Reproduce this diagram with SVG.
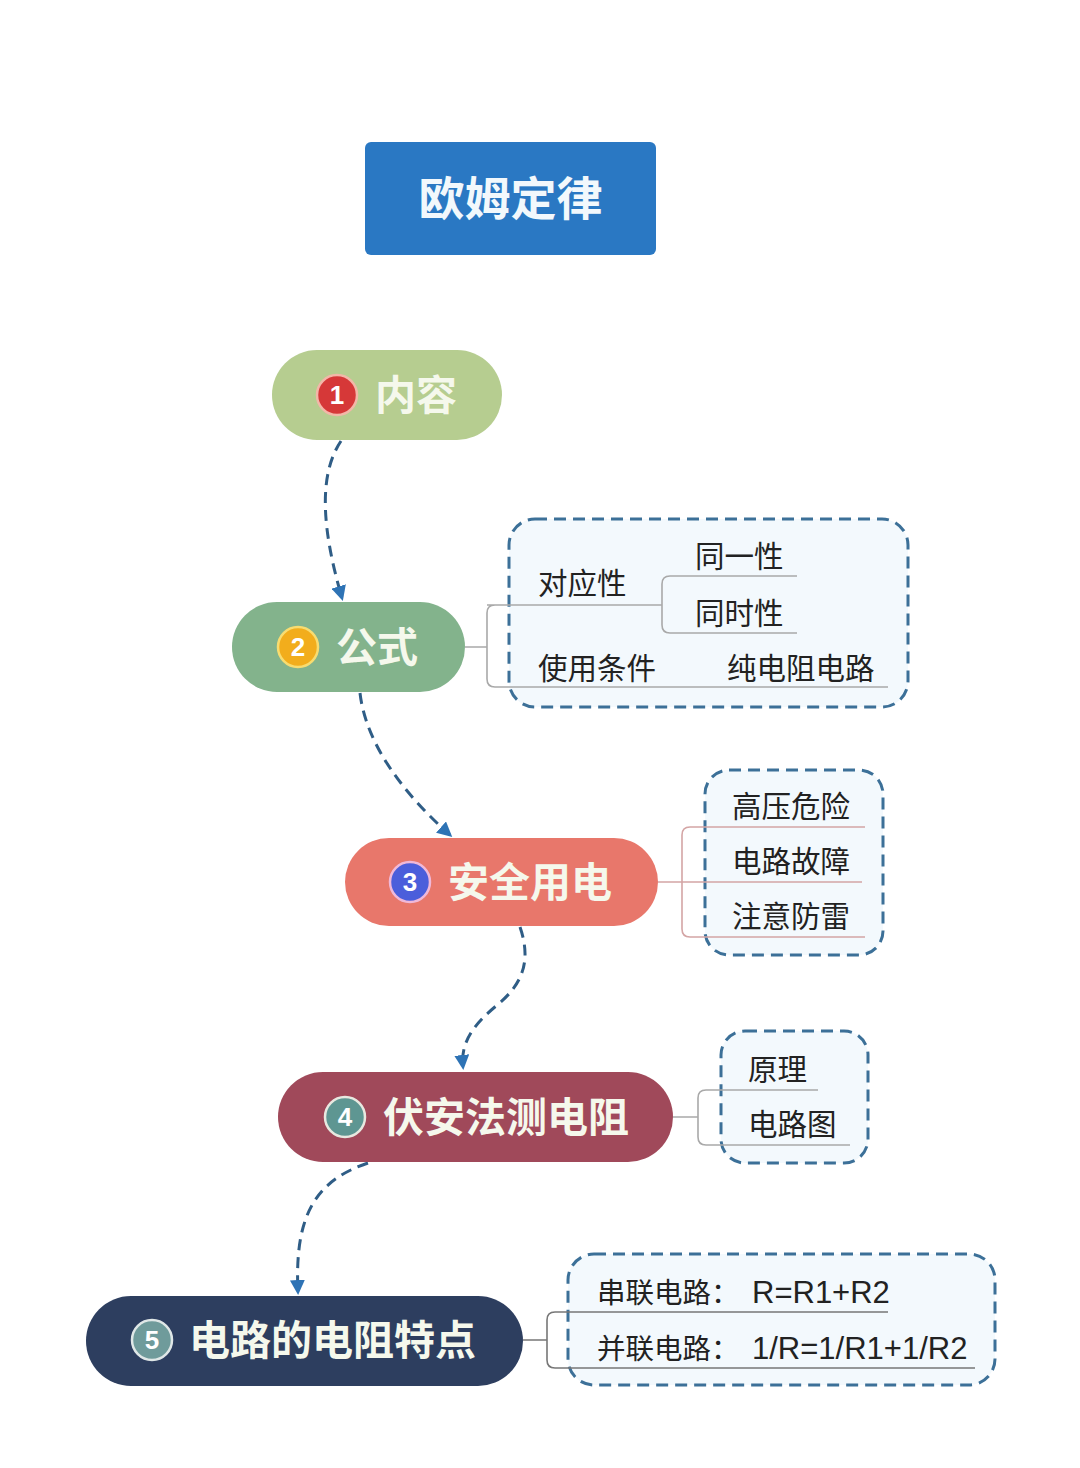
<svg xmlns="http://www.w3.org/2000/svg" width="1080" height="1468" viewBox="0 0 1080 1468">
<defs>
<marker id="arr" viewBox="0 0 10 10" refX="8" refY="5" markerWidth="5" markerHeight="5" orient="auto-start-reverse" markerUnits="strokeWidth">
<path d="M0,0 L10,5 L0,10 z" fill="#2e73b5"/>
</marker>
<style>
.nt{font-family:"Noto Sans CJK SC","Noto Sans",sans-serif;font-weight:bold;font-size:41px;fill:#f5f8ec}
.bn{font-family:"Liberation Sans","Noto Sans",sans-serif;font-weight:bold;font-size:26px;fill:#ffffff;text-anchor:middle}
.lt{font-family:"Noto Sans CJK SC","Noto Sans",sans-serif;font-size:29.5px;fill:#222222}
.ff{font-family:"Liberation Sans","Noto Sans CJK SC",sans-serif;font-size:31px;fill:#222222}
.cj{font-family:"Noto Sans CJK SC",sans-serif;font-size:28.5px}
.box{fill:#f3f9fd;stroke:#3c7098;stroke-width:3;stroke-dasharray:12 7}
.br{fill:none;stroke:#a9a9a9;stroke-width:1.6}
.con{fill:none;stroke:#2f5d86;stroke-width:3;stroke-dasharray:11 7;marker-end:url(#arr)}
</style>
</defs>
<rect width="1080" height="1468" fill="#ffffff"/>

<g id="title">
<rect x="365" y="142" width="291" height="113" rx="6" fill="#2a78c3"/>
<text x="510.5" y="215" text-anchor="middle" style="font-family:'Noto Sans CJK SC',sans-serif;font-weight:bold;font-size:46px;fill:#f2f8fc">欧姆定律</text>
</g>

<g id="connectors">
<path class="con" d="M341 441 C318 475 322 530 342 598"/>
<path class="con" d="M360 693 C366 745 405 795 450 835"/>
<path class="con" d="M520 927 C532 962 522 985 496 1006 C467 1030 461 1048 463 1067"/>
<path class="con" d="M368 1163 C318 1180 294 1212 298 1292"/>
</g>

<g id="box2">
<rect class="box" x="509" y="519" width="399" height="188" rx="26"/>
<path class="br" d="M465 647 H487 M509 605 H495 Q487 605 487 613 V679 Q487 687 495 687 H888 M487 605 H662 M797 576 H670 Q662 576 662 584 V625 Q662 633 670 633 H797"/>
<text class="lt" x="538" y="594">对应性</text>
<text class="lt" x="695" y="567">同一性</text>
<text class="lt" x="695" y="624">同时性</text>
<text class="lt" x="538" y="679">使用条件</text>
<text class="lt" x="727" y="679">纯电阻电路</text>
</g>

<g id="box3">
<rect class="box" x="705" y="770" width="178" height="185" rx="24"/>
<path class="br" style="stroke:#d4a5a5" d="M658 882 H862 M865 827 H690 Q682 827 682 835 V929 Q682 937 690 937 H865"/>
<text class="lt" x="732" y="817">高压危险</text>
<text class="lt" x="732" y="872">电路故障</text>
<text class="lt" x="732" y="927">注意防雷</text>
</g>

<g id="box4">
<rect class="box" x="721" y="1031" width="147" height="132" rx="24"/>
<path class="br" d="M673 1117 H698 M818 1090 H706 Q698 1090 698 1098 V1137 Q698 1145 706 1145 H850"/>
<text class="lt" x="748" y="1080">原理</text>
<text class="lt" x="748" y="1135">电路图</text>
</g>

<g id="box5">
<rect class="box" x="568" y="1254" width="427" height="131" rx="26"/>
<path class="br" style="stroke:#777777" d="M523 1340 H547 M888 1312 H555 Q547 1312 547 1320 V1360 Q547 1368 555 1368 H975"/>
<text class="ff" x="597" y="1303"><tspan class="cj">串联电路：</tspan><tspan x="752">R=R1+R2</tspan></text>
<text class="ff" x="597" y="1359"><tspan class="cj">并联电路：</tspan><tspan x="752">1/R=1/R1+1/R2</tspan></text>
</g>

<g id="node1">
<rect x="272" y="350" width="230" height="90" rx="45" fill="#b6cd90"/>
<circle cx="337" cy="395" r="20" fill="#d63838" stroke="#f3b7a8" stroke-width="2.5"/>
<text class="bn" x="337" y="404">1</text>
<text class="nt" x="375" y="410">内容</text>
</g>

<g id="node2">
<rect x="232" y="602" width="233" height="90" rx="45" fill="#83b38c"/>
<circle cx="298" cy="647" r="20" fill="#f2ad1c" stroke="#f8dc70" stroke-width="2.5"/>
<text class="bn" x="298" y="656">2</text>
<text class="nt" x="336" y="662">公式</text>
</g>

<g id="node3">
<rect x="345" y="838" width="313" height="88" rx="44" fill="#e8776b"/>
<circle cx="410" cy="882" r="20" fill="#4b5edb" stroke="#f0b8d8" stroke-width="2.5"/>
<text class="bn" x="410" y="891">3</text>
<text class="nt" x="448" y="897">安全用电</text>
</g>

<g id="node4">
<rect x="278" y="1072" width="395" height="90" rx="45" fill="#a0495a"/>
<circle cx="345" cy="1117" r="20" fill="#5e9692" stroke="#e8e8e0" stroke-width="2.5"/>
<text class="bn" x="345" y="1126">4</text>
<text class="nt" x="383" y="1132">伏安法测电阻</text>
</g>

<g id="node5">
<rect x="86" y="1296" width="437" height="90" rx="45" fill="#2d3e5f"/>
<circle cx="152" cy="1340" r="20" fill="#6f9b9b" stroke="#dfe7e7" stroke-width="2.5"/>
<text class="bn" x="152" y="1349">5</text>
<text class="nt" x="189" y="1355">电路的电阻特点</text>
</g>
</svg>
